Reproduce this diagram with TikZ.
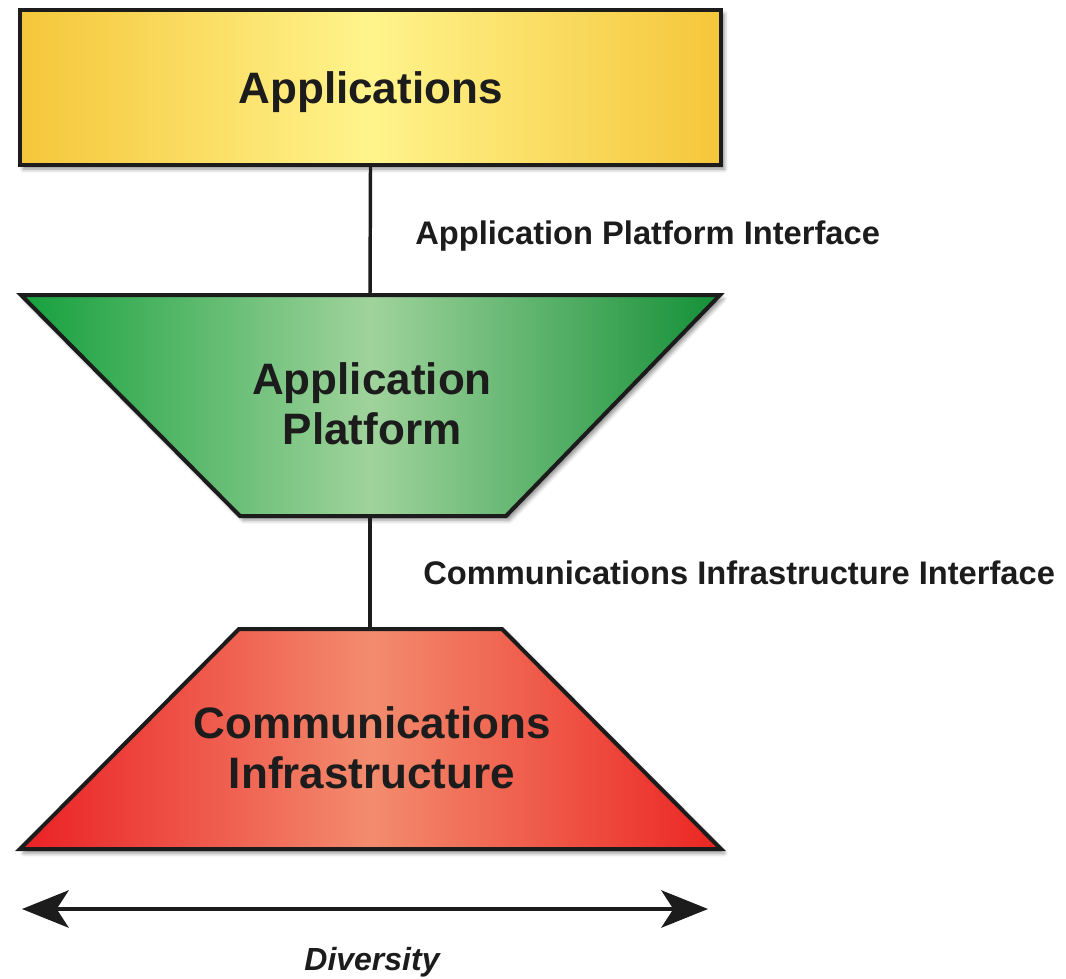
\documentclass[tikz,border=0pt]{standalone}
\usepackage{fontspec}
\setmainfont{Liberation Sans}
\usetikzlibrary{arrows.meta,positioning,shadows.blur}

\definecolor{appgold}{RGB}{245,198,58}
\definecolor{applight}{RGB}{255,244,140}
\definecolor{platgreen}{RGB}{22,160,62}
\definecolor{platlight}{RGB}{160,211,156}
\definecolor{commred}{RGB}{234,32,36}
\definecolor{commlight}{RGB}{243,140,110}
\definecolor{ink}{RGB}{28,28,28}

\tikzset{
	layer/.style={draw=ink,line width=3pt,line join=miter,
		blur shadow={shadow xshift=2.5pt,shadow yshift=-3pt,shadow blur radius=3pt,shadow opacity=45}},
	layertext/.style={font=\fontsize{33}{37.5}\selectfont\bfseries,text=ink,align=center},
	iflabel/.style={font=\fontsize{24.5}{28}\selectfont\bfseries,text=ink,anchor=west,inner sep=0pt},
	link/.style={draw=ink,line width=2.6pt}
}

\begin{document}
\begin{tikzpicture}[x=0.75pt,y=0.75pt]
	\useasboundingbox (0,0) rectangle (1066,-978);

	% top layer
	\node[layer,layertext,left color=appgold,right color=appgold,middle color=applight,
	minimum width=525.75pt,minimum height=116.25pt,inner sep=0pt,
	text height=23.5pt,text depth=0pt] (apps) at (370.5,-87.5) {Applications};

	% middle layer
	\coordinate (plattop) at (370,-295);
	\coordinate (platbot) at (370,-516);
	\path[layer,left color=platgreen,right color=platgreen!90!black,middle color=platlight]
	(21,-295) -- (720,-295) -- (506,-516) -- (240,-516) -- cycle;
	\node[layertext] (plat) at (372,-404) {Application\\Platform};

	% bottom layer
	\coordinate (commtop) at (370,-629);
	\path[layer,left color=commred,right color=commred!95!orange,middle color=commlight]
	(239,-629) -- (502,-629) -- (721,-849) -- (20,-849) -- cycle;
	\node[layertext] (comm) at (372,-748) {Communications\\Infrastructure};

	% interfaces
	\draw[link] (apps.south) -- (plattop);
	\draw[link] (platbot) -- (commtop);
	\node[iflabel] (apiface) at (415,-236) {Application Platform Interface};
	\node[iflabel] (ciiface) at (423,-573) {Communications Infrastructure Interface};

	% diversity
	\coordinate (divleft) at (22,-909);
	\coordinate (divright) at (708,-909);
	\draw[draw=ink,line width=3pt,{Stealth[length=35pt,width=28pt,inset=9pt]}-{Stealth[length=35pt,width=28pt,inset=9pt]}]
	(divleft) -- (divright);
	\node[font=\fontsize{24}{28}\selectfont\bfseries\itshape,text=ink] (div) at (372,-962) {Diversity};

\end{tikzpicture}
\end{document}
